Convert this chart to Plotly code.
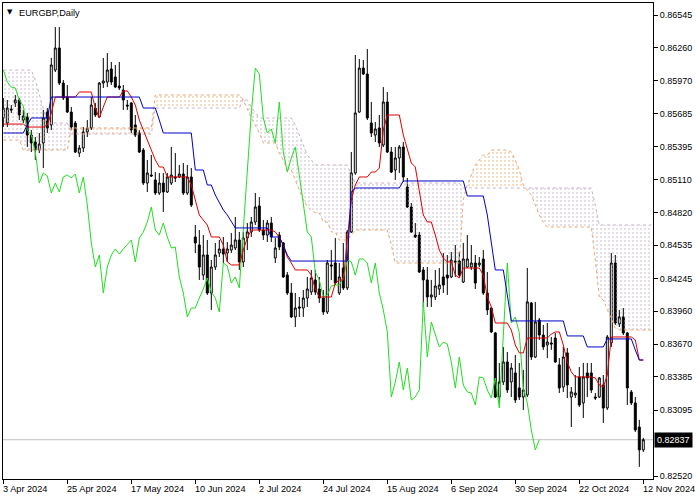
import plotly.graph_objects as go

# ---------------- data ----------------
tick_labels = ["3 Apr 2024", "25 Apr 2024", "17 May 2024", "10 Jun 2024", "2 Jul 2024",
               "24 Jul 2024", "15 Aug 2024", "6 Sep 2024", "30 Sep 2024", "22 Oct 2024", "12 Nov 2024"]
tick_bars = [0, 16, 32, 48, 64, 80, 96, 112, 128, 144, 160]

price_ticks = [0.86545, 0.86260, 0.85970, 0.85685, 0.85395, 0.85110, 0.84820, 0.84535,
               0.84245, 0.83960, 0.83670, 0.83385, 0.83095, 0.82520]
last_price = 0.82837

opens = [0.85646,0.85602,0.85724,0.85777,0.85803,0.85628,0.85655,0.85497,0.85436,0.85366,
0.85428,0.85698,0.85585,0.86065,0.86257,0.85951,0.85829,0.85698,0.85602,0.85340,
0.85384,0.85524,0.85559,0.85733,0.85655,0.85951,0.85960,0.86074,0.86004,0.85925,
0.85890,0.85759,0.85777,0.85585,0.85515,0.85366,0.85078,0.85148,0.85105,0.84991,
0.85078,0.85000,0.85078,0.85131,0.85131,0.85157,0.84991,0.85131,0.84607,0.84537,
0.84275,0.84450,0.84118,0.84345,0.84467,0.84502,0.84467,0.84493,0.84511,0.84581,
0.84389,0.84598,0.84651,0.84738,0.84878,0.84668,0.84624,0.84729,0.84424,0.84624,
0.84555,0.84275,0.84118,0.83909,0.83996,0.83987,0.84074,0.84127,0.84232,0.84153,
0.84074,0.83952,0.84363,0.84380,0.84118,0.84336,0.84162,0.84651,0.85166,0.85698,
0.86082,0.86030,0.85602,0.85497,0.85559,0.85410,0.85786,0.85349,0.85192,0.85297,
0.85393,0.85043,0.84869,0.84624,0.84624,0.84319,0.84232,0.84083,0.84083,0.84153,
0.84258,0.84275,0.84258,0.84397,0.84397,0.84214,0.84345,0.84345,0.84380,0.84363,
0.84415,0.84118,0.83987,0.83769,0.83210,0.83341,0.83516,0.83341,0.83420,0.83289,
0.83210,0.83228,0.84031,0.83559,0.83882,0.83751,0.83664,0.83682,0.83725,0.83490,
0.83297,0.83595,0.83210,0.83228,0.83385,0.83158,0.83420,0.83420,0.83210,0.83210,
0.83315,0.83114,0.83682,0.84380,0.83848,0.83909,0.83769,0.83254,0.83158,0.82948,
0.82748]

highs = [0.85820,0.85803,0.85759,0.85847,0.85820,0.85716,0.85690,0.85541,0.85480,0.85515,
0.85716,0.85733,0.86170,0.86440,0.86440,0.85978,0.85934,0.85742,0.85620,0.85410,
0.85567,0.85628,0.85829,0.85777,0.85960,0.86170,0.86213,0.86135,0.86109,0.86135,
0.85934,0.85803,0.85786,0.85672,0.85541,0.85384,0.85279,0.85323,0.85174,0.85166,
0.85166,0.85166,0.85393,0.85340,0.85236,0.85253,0.85236,0.85209,0.84712,0.84668,
0.84624,0.84581,0.84406,0.84555,0.84581,0.84607,0.84563,0.84642,0.84782,0.84651,
0.84651,0.84729,0.84782,0.84991,0.84956,0.84755,0.84755,0.84782,0.84598,0.84651,
0.84563,0.84301,0.84205,0.84118,0.84083,0.84144,0.84258,0.84319,0.84319,0.84258,
0.84144,0.84406,0.84493,0.84598,0.84380,0.84555,0.84668,0.85349,0.86196,0.86161,
0.86152,0.86248,0.85786,0.85611,0.85672,0.85916,0.85873,0.85393,0.85393,0.85410,
0.85436,0.85122,0.84904,0.84729,0.84651,0.84345,0.84345,0.84232,0.84319,0.84336,
0.84467,0.84450,0.84476,0.84537,0.84476,0.84555,0.84624,0.84537,0.84450,0.84432,
0.84493,0.84301,0.83996,0.83778,0.83507,0.83647,0.83603,0.83507,0.83577,0.83507,
0.83446,0.84336,0.84040,0.84040,0.83900,0.83839,0.83856,0.83734,0.83769,0.83550,
0.83647,0.83638,0.83297,0.83402,0.83472,0.83507,0.83507,0.83507,0.83245,0.83385,
0.83402,0.83751,0.84467,0.84450,0.83970,0.83987,0.83778,0.83271,0.83210,0.83010,
0.82853]

lows = [0.85567,0.85567,0.85690,0.85742,0.85628,0.85602,0.85393,0.85349,0.85279,0.85340,
0.85209,0.85515,0.85541,0.86047,0.85934,0.85803,0.85690,0.85541,0.85340,0.85305,
0.85349,0.85480,0.85541,0.85655,0.85646,0.85908,0.85916,0.85934,0.85908,0.85890,
0.85716,0.85716,0.85515,0.85480,0.85340,0.85061,0.85000,0.85131,0.84974,0.84974,
0.84825,0.84991,0.85061,0.85087,0.85122,0.84974,0.84974,0.84869,0.84467,0.84232,
0.84232,0.84101,0.83970,0.84319,0.84432,0.84380,0.84389,0.84467,0.84493,0.84319,
0.84345,0.84493,0.84607,0.84712,0.84651,0.84581,0.84563,0.84563,0.84380,0.84493,
0.84249,0.84101,0.83900,0.83821,0.83909,0.83909,0.83996,0.84101,0.84101,0.84031,
0.83926,0.83935,0.84232,0.84188,0.84101,0.84144,0.84144,0.84642,0.85150,0.85690,
0.86021,0.85628,0.85480,0.85436,0.85393,0.85393,0.85340,0.85166,0.85105,0.85166,
0.85087,0.84860,0.84642,0.84598,0.84293,0.83996,0.83996,0.83996,0.84057,0.84101,
0.84118,0.84101,0.84249,0.84258,0.84258,0.84205,0.84336,0.84319,0.84153,0.84345,
0.84101,0.83926,0.83769,0.83201,0.83167,0.83315,0.83245,0.83210,0.83158,0.83184,
0.83097,0.83210,0.83533,0.83550,0.83708,0.83621,0.83550,0.83621,0.83507,0.83245,
0.83254,0.83201,0.82948,0.83201,0.83123,0.83027,0.83210,0.83245,0.83184,0.83201,
0.82983,0.83097,0.83647,0.83839,0.83821,0.83751,0.83140,0.83140,0.82905,0.82600,
0.82730]

closes = [0.85733,0.85733,0.85716,0.85803,0.85672,0.85663,0.85497,0.85428,0.85366,0.85419,
0.85646,0.85559,0.86109,0.86257,0.85951,0.85820,0.85698,0.85567,0.85349,0.85384,
0.85524,0.85559,0.85759,0.85672,0.85951,0.85969,0.86065,0.85960,0.85916,0.85908,
0.85803,0.85751,0.85541,0.85497,0.85349,0.85078,0.85166,0.85140,0.84991,0.85078,
0.85000,0.85131,0.85148,0.85122,0.85157,0.84991,0.85131,0.84886,0.84555,0.84345,
0.84450,0.84118,0.84345,0.84450,0.84502,0.84459,0.84502,0.84537,0.84581,0.84389,
0.84598,0.84651,0.84738,0.84869,0.84668,0.84624,0.84729,0.84607,0.84511,0.84520,
0.84258,0.84118,0.83909,0.83987,0.83987,0.84074,0.84153,0.84249,0.84127,0.84074,
0.83952,0.84380,0.84354,0.84205,0.84258,0.84162,0.84651,0.85166,0.85690,0.86082,
0.86030,0.85646,0.85515,0.85550,0.85428,0.85786,0.85349,0.85174,0.85297,0.85393,
0.85131,0.84869,0.84651,0.84607,0.84301,0.84232,0.84083,0.84101,0.84179,0.84188,
0.84188,0.84249,0.84406,0.84389,0.84275,0.84415,0.84415,0.84380,0.84205,0.84380,
0.84118,0.83970,0.83778,0.83210,0.83341,0.83516,0.83271,0.83463,0.83184,0.83210,
0.83271,0.84040,0.83559,0.83865,0.83751,0.83647,0.83690,0.83673,0.83516,0.83289,
0.83559,0.83315,0.83254,0.83245,0.83140,0.83385,0.83376,0.83271,0.83201,0.83376,
0.83114,0.83734,0.84380,0.83856,0.83909,0.83769,0.83289,0.83158,0.82922,0.82748,
0.82837]

tenkan = [0.85593,0.85593,0.85593,0.85593,0.85593,0.85593,0.85567,0.85567,0.85567,0.85567,
0.85567,0.85585,0.85690,0.85829,0.85829,0.85829,0.85829,0.85829,0.85829,0.85873,
0.85873,0.85873,0.85873,0.85733,0.85646,0.85742,0.85829,0.85829,0.85829,0.85829,
0.85882,0.85882,0.85829,0.85759,0.85628,0.85541,0.85454,0.85366,0.85279,0.85218,
0.85218,0.85131,0.85131,0.85131,0.85131,0.85131,0.85131,0.85061,0.84930,0.84799,
0.84755,0.84712,0.84607,0.84607,0.84607,0.84537,0.84389,0.84363,0.84363,0.84363,
0.84493,0.84598,0.84668,0.84668,0.84668,0.84668,0.84668,0.84668,0.84651,0.84607,
0.84537,0.84432,0.84380,0.84319,0.84319,0.84319,0.84319,0.84275,0.84153,0.84083,
0.84083,0.84083,0.84083,0.84205,0.84232,0.84232,0.84581,0.84930,0.85061,0.85131,
0.85131,0.85131,0.85174,0.85174,0.85209,0.85541,0.85672,0.85672,0.85672,0.85672,
0.85497,0.85366,0.85253,0.85218,0.85017,0.84799,0.84738,0.84738,0.84624,0.84493,
0.84424,0.84389,0.84389,0.84275,0.84249,0.84336,0.84336,0.84336,0.84336,0.84336,
0.84275,0.84083,0.83996,0.83856,0.83856,0.83856,0.83856,0.83795,0.83664,0.83595,
0.83595,0.83725,0.83725,0.83725,0.83725,0.83725,0.83725,0.83760,0.83778,0.83778,
0.83664,0.83516,0.83429,0.83385,0.83385,0.83385,0.83385,0.83385,0.83376,0.83315,
0.83297,0.83402,0.83734,0.83734,0.83734,0.83734,0.83734,0.83734,0.83708,0.83533,
0.83533]

kijun = [0.85515,0.85515,0.85515,0.85515,0.85515,0.85515,0.85585,0.85646,0.85646,0.85646,
0.85646,0.85646,0.85829,0.85829,0.85829,0.85829,0.85829,0.85829,0.85829,0.85829,
0.85829,0.85829,0.85829,0.85829,0.85829,0.85829,0.85829,0.85829,0.85829,0.85829,
0.85829,0.85829,0.85829,0.85829,0.85829,0.85733,0.85733,0.85733,0.85733,0.85628,
0.85515,0.85515,0.85515,0.85515,0.85515,0.85515,0.85515,0.85515,0.85192,0.85192,
0.85192,0.85061,0.85061,0.84974,0.84904,0.84843,0.84799,0.84738,0.84686,0.84686,
0.84686,0.84686,0.84686,0.84686,0.84686,0.84686,0.84686,0.84607,0.84607,0.84607,
0.84537,0.84450,0.84397,0.84397,0.84397,0.84397,0.84397,0.84397,0.84397,0.84397,
0.84397,0.84397,0.84397,0.84397,0.84397,0.84397,0.84397,0.85000,0.85035,0.85035,
0.85035,0.85035,0.85035,0.85035,0.85035,0.85035,0.85035,0.85035,0.85035,0.85035,
0.85096,0.85096,0.85096,0.85096,0.85096,0.85096,0.85096,0.85096,0.85096,0.85096,
0.85096,0.85096,0.85096,0.85096,0.85096,0.85096,0.84965,0.84965,0.84965,0.84965,
0.84965,0.84799,0.84555,0.84319,0.84319,0.84319,0.84101,0.83874,0.83874,0.83874,
0.83874,0.83874,0.83874,0.83874,0.83874,0.83874,0.83874,0.83874,0.83874,0.83874,
0.83874,0.83743,0.83743,0.83743,0.83743,0.83743,0.83647,0.83647,0.83647,0.83647,
0.83647,0.83717,0.83717,0.83717,0.83717,0.83717,0.83717,0.83717,0.83621,0.83533,
0.83533]

span_a = [0.85454,0.85454,0.85454,0.85454,0.85454,0.85366,0.85366,0.85366,0.85366,0.85366,
0.85366,0.85366,0.85366,0.85366,0.85366,0.85366,0.85366,0.85559,0.85559,0.85559,
0.85559,0.85559,0.85559,0.85559,0.85559,0.85559,0.85559,0.85559,0.85559,0.85559,
0.85559,0.85559,0.85559,0.85559,0.85559,0.85559,0.85559,0.85559,0.85847,0.85847,
0.85847,0.85847,0.85847,0.85847,0.85847,0.85847,0.85847,0.85847,0.85847,0.85847,
0.85847,0.85847,0.85847,0.85847,0.85847,0.85847,0.85847,0.85847,0.85847,0.85847,
0.85803,0.85716,0.85646,0.85585,0.85515,0.85428,0.85428,0.85428,0.85428,0.85340,
0.85279,0.85192,0.85192,0.85105,0.85017,0.84930,0.84869,0.84843,0.84817,0.84817,
0.84738,0.84738,0.84651,0.84651,0.84581,0.84581,0.84581,0.84624,0.84668,0.84668,
0.84668,0.84668,0.84668,0.84668,0.84668,0.84668,0.84668,0.84537,0.84380,0.84380,
0.84380,0.84380,0.84380,0.84380,0.84380,0.84380,0.84380,0.84380,0.84380,0.84380,
0.84380,0.84380,0.84380,0.84380,0.84380,0.84930,0.85061,0.85148,0.85236,0.85279,
0.85323,0.85323,0.85366,0.85366,0.85366,0.85366,0.85366,0.85349,0.85279,0.85192,
0.85061,0.85017,0.84974,0.84886,0.84799,0.84738,0.84694,0.84694,0.84694,0.84694,
0.84694,0.84694,0.84694,0.84694,0.84694,0.84694,0.84694,0.84694,0.84406,0.84083,
0.84057,0.83970,0.83882,0.83812,0.83795,0.83795,0.83795,0.83795,0.83795,0.83795,
0.83795,0.83795,0.83795]

span_b = [0.86065,0.86065,0.86065,0.86065,0.86065,0.86065,0.86065,0.86065,0.85978,0.85847,
0.85716,0.85602,0.85602,0.85602,0.85602,0.85602,0.85602,0.85506,0.85506,0.85506,
0.85506,0.85506,0.85506,0.85506,0.85506,0.85506,0.85506,0.85506,0.85506,0.85506,
0.85506,0.85506,0.85506,0.85506,0.85506,0.85506,0.85506,0.85506,0.85733,0.85733,
0.85733,0.85733,0.85733,0.85733,0.85733,0.85733,0.85733,0.85733,0.85733,0.85733,
0.85733,0.85733,0.85733,0.85733,0.85733,0.85733,0.85733,0.85733,0.85733,0.85733,
0.85812,0.85803,0.85742,0.85698,0.85646,0.85646,0.85646,0.85646,0.85646,0.85646,
0.85646,0.85646,0.85646,0.85585,0.85497,0.85410,0.85323,0.85279,0.85236,0.85236,
0.85236,0.85236,0.85236,0.85236,0.85236,0.85236,0.85236,0.85148,0.85078,0.85078,
0.85078,0.85078,0.85078,0.85078,0.85078,0.85078,0.85078,0.85078,0.85078,0.85078,
0.85078,0.85078,0.85078,0.85078,0.85078,0.85078,0.85078,0.85078,0.85078,0.85078,
0.85078,0.85078,0.85078,0.85078,0.85078,0.85035,0.85035,0.85035,0.85035,0.85035,
0.85035,0.85035,0.85035,0.85035,0.85035,0.85035,0.85035,0.85035,0.85035,0.85035,
0.85035,0.85035,0.85035,0.85035,0.85035,0.85035,0.85035,0.85035,0.85035,0.85035,
0.85035,0.85035,0.85035,0.85035,0.85035,0.85035,0.85035,0.85035,0.84886,0.84712,
0.84712,0.84712,0.84712,0.84712,0.84712,0.84712,0.84712,0.84712,0.84712,0.84712,
0.84712,0.84712,0.84712]

CHIKOU_SHIFT = 26

# ---------------- figure ----------------
bars = list(range(len(closes)))
cloud_x = list(range(len(span_a)))
cloud_top = [max(a, b) for a, b in zip(span_a, span_b)]
chikou_x = bars[:len(closes) - CHIKOU_SHIFT]
chikou_y = closes[CHIKOU_SHIFT:]

fig = go.Figure()

# up-cloud (span A above span B): sandy-brown dots
fig.add_trace(go.Scatter(x=cloud_x, y=span_b, mode="lines", line=dict(width=0),
                         hoverinfo="skip", showlegend=False))
fig.add_trace(go.Scatter(x=cloud_x, y=cloud_top, mode="lines", line=dict(width=0),
                         fill="tonexty", fillcolor="rgba(0,0,0,0)",
                         fillpattern=dict(shape=".", fgcolor="#e9a86e", bgcolor="rgba(0,0,0,0)",
                                          size=4, solidity=0.22),
                         hoverinfo="skip", showlegend=False))
# down-cloud (span B above span A): thistle/grey dots
fig.add_trace(go.Scatter(x=cloud_x, y=span_a, mode="lines", line=dict(width=0),
                         hoverinfo="skip", showlegend=False))
fig.add_trace(go.Scatter(x=cloud_x, y=cloud_top, mode="lines", line=dict(width=0),
                         fill="tonexty", fillcolor="rgba(0,0,0,0)",
                         fillpattern=dict(shape=".", fgcolor="#bfb0bf", bgcolor="rgba(0,0,0,0)",
                                          size=4, solidity=0.22),
                         hoverinfo="skip", showlegend=False))
# cloud edges
fig.add_trace(go.Scatter(x=cloud_x, y=span_a, mode="lines",
                         line=dict(color="#e9a470", width=1, dash="dot"),
                         hoverinfo="skip", showlegend=False))
fig.add_trace(go.Scatter(x=cloud_x, y=span_b, mode="lines",
                         line=dict(color="#c8b4c8", width=1, dash="dot"),
                         hoverinfo="skip", showlegend=False))

# candles
fig.add_trace(go.Candlestick(
    x=bars, open=opens, high=highs, low=lows, close=closes,
    increasing=dict(line=dict(color="black", width=1), fillcolor="white"),
    decreasing=dict(line=dict(color="black", width=1), fillcolor="black"),
    whiskerwidth=0, hoverinfo="skip", showlegend=False))

# Ichimoku lines
fig.add_trace(go.Scatter(x=chikou_x, y=chikou_y, mode="lines",
                         line=dict(color="#22dd22", width=1), hoverinfo="skip", showlegend=False))
fig.add_trace(go.Scatter(x=bars, y=tenkan, mode="lines",
                         line=dict(color="#dd0000", width=1), hoverinfo="skip", showlegend=False))
fig.add_trace(go.Scatter(x=bars, y=kijun, mode="lines",
                         line=dict(color="#0000c8", width=1), hoverinfo="skip", showlegend=False))

# last-price line
fig.add_shape(type="line", xref="paper", x0=0, x1=1, yref="y", y0=last_price, y1=last_price,
              line=dict(color="#c0c0c0", width=1), layer="below")

font_main = "Liberation Sans, Arial, sans-serif"
annotations = []
for b, lab in zip(tick_bars, tick_labels):
    annotations.append(dict(x=b, xref="x", y=0, yref="paper", text=lab, showarrow=False,
                            xanchor="left", yanchor="top", xshift=-2, yshift=-3,
                            font=dict(family=font_main, size=9.2, color="black")))
annotations.append(dict(x=0, xref="paper", y=1, yref="paper", text="▼", showarrow=False,
                        xanchor="left", yanchor="top", xshift=2, yshift=-3,
                        font=dict(family="DejaVu Sans", size=7, color="black")))
annotations.append(dict(x=0, xref="paper", y=1, yref="paper", text="EURGBP,Daily", showarrow=False,
                        xanchor="left", yanchor="top", xshift=14, yshift=-3,
                        font=dict(family=font_main, size=9.2, color="black")))
annotations.append(dict(x=1, xref="paper", y=last_price, yref="y", text=f"{last_price:.5f}",
                        showarrow=False, xanchor="left", yanchor="middle", xshift=1,
                        bgcolor="black", borderpad=2,
                        font=dict(family=font_main, size=9, color="white")))

fig.update_layout(
    width=700, height=500,
    margin=dict(l=3, r=47, t=3, b=21),
    paper_bgcolor="white", plot_bgcolor="white",
    showlegend=False, hovermode=False,
    annotations=annotations,
    xaxis=dict(range=[-0.075, 162.425], showgrid=False, zeroline=False,
               showline=True, linecolor="black", linewidth=1, mirror=True,
               ticks="outside", ticklen=4, tickcolor="black", tickwidth=1,
               tickvals=tick_bars, showticklabels=False,
               rangeslider=dict(visible=False), fixedrange=True),
    yaxis=dict(range=[0.82494, 0.86650], side="right", showgrid=False, zeroline=False,
               showline=True, linecolor="black", linewidth=1, mirror=True,
               ticks="outside", ticklen=4, tickcolor="black", tickwidth=1,
               tickvals=price_ticks, ticktext=[f"{v:.5f}" for v in price_ticks],
               tickfont=dict(family=font_main, size=9, color="black"), fixedrange=True),
)

fig.write_html("out.html", config={"displayModeBar": False},
               post_script="document.body.style.margin='0';document.body.style.padding='0';")
